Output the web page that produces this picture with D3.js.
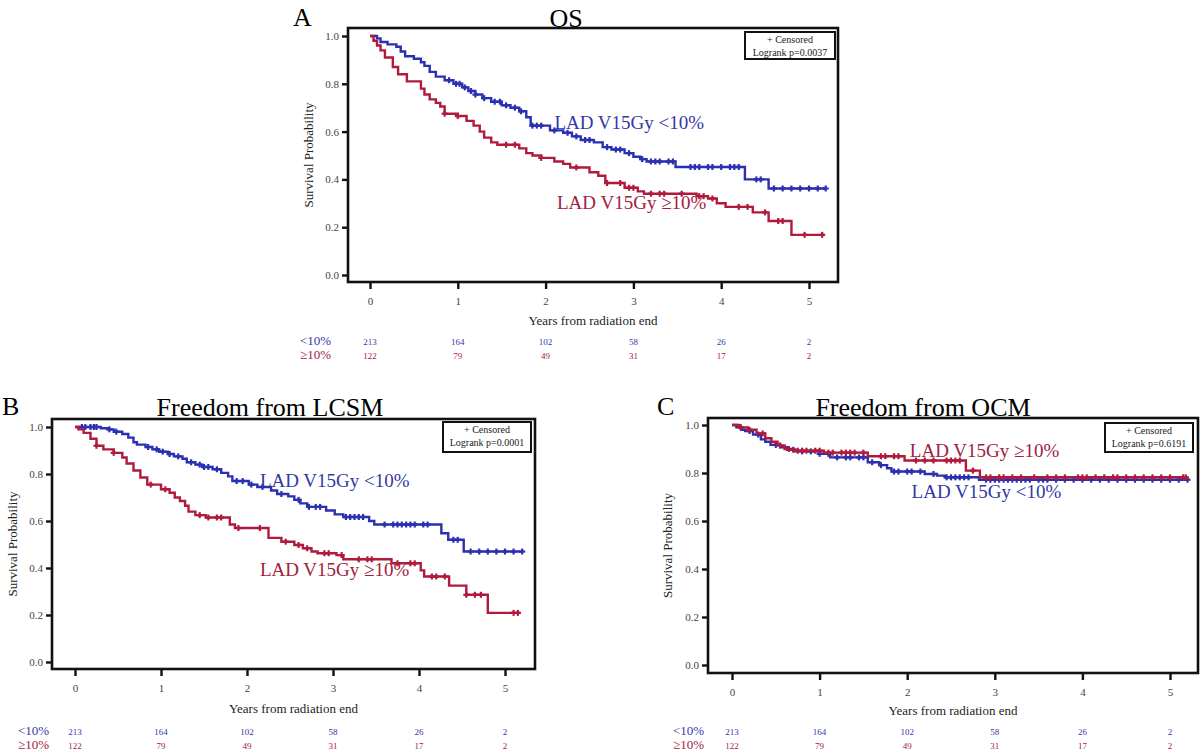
<!DOCTYPE html>
<html>
<head>
<meta charset="UTF-8">
<script src="https://d3js.org/d3.v7.min.js"></script>
<style>
  body { margin: 0; background: #fff; }
  svg text { font-family: "Liberation Serif", "Times New Roman", serif; }
</style>
</head>
<body>
<svg id="canvas" width="1200" height="753"></svg>
<script>
// ---- data ----
const xTicks = [0, 1, 2, 3, 4, 5];
const yTicks = [0, 0.2, 0.4, 0.6, 0.8, 1.0];
const groupNames = ["<10%", "\u226510%"];
const lowRisk = [213, 164, 102, 58, 26, 2];
const highRisk = [122, 79, 49, 31, 17, 2];

// OS
const osLowSteps = [[0,1],[0.08,0.99],[0.12,0.975],[0.2,0.965],[0.3,0.955],[0.35,0.935],[0.4,0.915],[0.5,0.905],[0.58,0.89],[0.62,0.875],[0.68,0.85],[0.75,0.83],[0.85,0.815],[0.95,0.8],[1.05,0.785],[1.12,0.77],[1.2,0.755],[1.28,0.74],[1.38,0.725],[1.5,0.71],[1.6,0.7],[1.7,0.685],[1.78,0.66],[1.83,0.625],[2.05,0.605],[2.2,0.595],[2.3,0.58],[2.4,0.565],[2.55,0.555],[2.65,0.535],[2.75,0.525],[2.9,0.51],[3.0,0.495],[3.08,0.485],[3.15,0.475],[3.48,0.452],[4.27,0.4],[4.54,0.362],[5.19,0.362]];
const osHighSteps = [[0,1],[0.04,0.98],[0.08,0.96],[0.12,0.94],[0.17,0.91],[0.26,0.87],[0.32,0.84],[0.42,0.81],[0.58,0.78],[0.62,0.755],[0.68,0.735],[0.75,0.72],[0.8,0.705],[0.85,0.675],[1.0,0.665],[1.1,0.645],[1.18,0.625],[1.25,0.6],[1.3,0.575],[1.38,0.555],[1.45,0.545],[1.7,0.53],[1.78,0.51],[1.85,0.5],[1.95,0.49],[2.1,0.475],[2.2,0.465],[2.28,0.45],[2.5,0.43],[2.6,0.415],[2.68,0.385],[2.9,0.365],[3.05,0.35],[3.12,0.34],[3.72,0.33],[3.85,0.32],[3.95,0.3],[4.05,0.285],[4.36,0.262],[4.54,0.226],[4.8,0.168],[5.17,0.168]];
const osLowCensor = [0.9,0.98,1.02,1.08,1.15,1.2,1.3,1.42,1.48,1.55,1.65,1.72,1.85,1.9,1.95,2.1,2.25,2.35,2.45,2.5,2.7,2.8,2.85,2.95,3.1,3.2,3.25,3.3,3.4,3.45,3.65,3.7,3.75,3.85,3.9,4.0,4.1,4.15,4.2,4.4,4.45,4.6,4.7,4.8,4.9,5.0,5.1,5.19];
const osHighCensor = [0.85,1.0,1.55,1.65,1.95,2.35,2.7,2.85,2.95,3.0,3.2,3.3,3.35,3.55,3.75,3.8,3.9,4.2,4.3,4.5,4.65,4.7,4.95,5.15];

// LCSM
const lcsmLowSteps = [[0,1],[0.3,0.995],[0.38,0.99],[0.45,0.98],[0.55,0.97],[0.62,0.955],[0.68,0.935],[0.72,0.925],[0.82,0.915],[0.9,0.905],[0.98,0.895],[1.08,0.885],[1.15,0.875],[1.25,0.865],[1.3,0.85],[1.4,0.84],[1.48,0.83],[1.6,0.82],[1.7,0.805],[1.78,0.79],[1.83,0.77],[2.02,0.755],[2.12,0.745],[2.28,0.73],[2.35,0.715],[2.48,0.705],[2.55,0.69],[2.62,0.675],[2.7,0.66],[2.92,0.645],[3.02,0.628],[3.12,0.617],[3.42,0.6],[3.48,0.585],[4.26,0.548],[4.34,0.52],[4.52,0.47],[5.2,0.47]];
const lcsmHighSteps = [[0,1],[0.04,0.99],[0.1,0.975],[0.18,0.95],[0.25,0.92],[0.33,0.905],[0.45,0.89],[0.55,0.87],[0.6,0.845],[0.68,0.815],[0.76,0.785],[0.84,0.755],[1.0,0.735],[1.1,0.72],[1.16,0.7],[1.22,0.685],[1.28,0.665],[1.32,0.64],[1.4,0.625],[1.52,0.615],[1.8,0.585],[1.86,0.57],[2.25,0.528],[2.4,0.512],[2.55,0.498],[2.65,0.484],[2.75,0.47],[2.82,0.463],[3.04,0.455],[3.12,0.437],[3.68,0.42],[4.02,0.39],[4.06,0.364],[4.35,0.325],[4.55,0.286],[4.8,0.209],[5.18,0.209]];
const lcsmLowCensor = [0.08,0.12,0.18,0.22,0.25,0.4,0.48,0.85,0.95,1.02,1.1,1.2,1.35,1.45,1.5,1.55,1.65,1.88,1.95,2.05,2.18,2.4,2.6,2.72,2.8,2.85,3.15,3.2,3.25,3.3,3.35,3.6,3.7,3.75,3.8,3.85,3.9,3.95,4.05,4.1,4.4,4.45,4.6,4.7,4.8,4.9,5.0,5.1,5.2];
const lcsmHighCensor = [0.25,0.45,0.88,1.05,1.45,1.55,1.65,1.7,1.9,2.15,2.45,2.6,2.7,2.9,2.95,3.1,3.3,3.4,3.45,3.75,3.9,3.95,4.15,4.2,4.3,4.55,4.65,4.72,5.1,5.15];

// OCM
const ocmLowSteps = [[0,1],[0.05,0.99],[0.11,0.98],[0.15,0.975],[0.24,0.96],[0.33,0.94],[0.38,0.93],[0.44,0.917],[0.55,0.907],[0.63,0.897],[0.72,0.89],[1.0,0.88],[1.12,0.865],[1.55,0.845],[1.68,0.833],[1.77,0.82],[1.82,0.806],[2.2,0.796],[2.34,0.789],[2.43,0.782],[2.82,0.772],[5.2,0.772]];
const ocmHighSteps = [[0,1],[0.08,0.99],[0.18,0.98],[0.28,0.965],[0.38,0.945],[0.45,0.93],[0.52,0.915],[0.6,0.9],[0.7,0.893],[1.05,0.885],[1.55,0.87],[1.97,0.852],[2.67,0.81],[2.83,0.782],[5.2,0.782]];
const ocmLowCensor = [0.1,0.2,0.3,0.5,0.7,0.8,0.9,1.0,1.1,1.2,1.3,1.35,1.45,1.5,1.6,1.7,1.85,1.9,2.0,2.05,2.15,2.3,2.45,2.5,2.55,2.6,2.65,2.7,2.9,2.95,3.0,3.05,3.1,3.15,3.2,3.25,3.3,3.35,3.4,3.5,3.55,3.6,3.7,3.8,3.9,4.0,4.1,4.2,4.3,4.4,4.5,4.6,4.7,4.8,4.9,5.0,5.1,5.2];
const ocmHighCensor = [0.1,0.2,0.35,0.55,0.65,0.75,0.8,0.85,0.95,1.0,1.1,1.15,1.25,1.3,1.35,1.4,1.5,1.7,1.75,1.85,1.9,2.1,2.2,2.3,2.45,2.5,2.55,2.6,2.75,2.9,2.95,3.05,3.1,3.2,3.3,3.45,3.6,3.7,3.8,3.95,4.0,4.05,4.15,4.25,4.35,4.4,4.5,4.6,4.7,4.8,4.9,5.0,5.15,5.18];

const pValues = ["0.0037", "0.0001", "0.6191"];

const blue = "#2a30b0", red = "#b01a3c";
const blueText = "#3338a6", redText = "#a2213f";

// panel layout (frame box, scale ranges, label spots)
panels = [
  { letter: "A", title: "OS", frame: [348, 28, 838, 282], xr: [370, 809], yr: [275, 36],
    letterX: 293, titleX: 566, titleY: 27, tickY: 303, xTitleY: 325, row1: 345, row2: 359, rowLabelX: 300,
    legend: [745, 32, 835, 59], p: pValues[0], yTitleX: 308,
    low: osLowSteps, high: osHighSteps, lowC: osLowCensor, highC: osHighCensor,
    lowLab: [2.1, 0.61], highLab: [2.13, 0.275] },
  { letter: "B", title: "Freedom from LCSM", frame: [52, 419, 535, 669], xr: [75, 505], yr: [662, 427],
    letterX: 2, titleX: 270, titleY: 416, tickY: 692, xTitleY: 713, row1: 735, row2: 749, rowLabelX: 18,
    legend: [443, 422, 531, 452], p: pValues[1], yTitleX: 12,
    low: lcsmLowSteps, high: lcsmHighSteps, lowC: lcsmLowCensor, highC: lcsmHighCensor,
    lowLab: [2.15, 0.745], highLab: [2.15, 0.367] },
  { letter: "C", title: "Freedom from OCM", frame: [708, 418, 1198, 673], xr: [732, 1170], yr: [665, 425],
    letterX: 657, titleX: 923, titleY: 416, tickY: 694, xTitleY: 715, row1: 735, row2: 749, rowLabelX: 673,
    legend: [1105, 423, 1193, 452], p: pValues[2], yTitleX: 667,
    low: ocmLowSteps, high: ocmHighSteps, lowC: ocmLowCensor, highC: ocmHighCensor,
    lowLab: [2.05, 0.694], highLab: [2.03, 0.865] }
];

svg = d3.select("#canvas");

function survAt(steps, t) {
  let s = steps[0][1];
  for (const d of steps) { if (d[0] <= t) s = d[1]; }
  return s;
}

panels.forEach(function (p) {
  const x = d3.scaleLinear().domain([0, 5]).range(p.xr);
  const y = d3.scaleLinear().domain([0, 1]).range(p.yr);
  const [fx0, fy0, fx1, fy1] = p.frame;
  const g = svg.append("g");

  // panel letter + title
  g.append("text").attr("x", p.letterX).attr("y", p.titleY - 1)
    .attr("font-size", 26).text(p.letter);
  g.append("text").attr("x", p.titleX).attr("y", p.titleY)
    .attr("text-anchor", "middle").attr("font-size", 26).text(p.title);

  // axes (ticks outside the frame)
  const yAxis = g.append("g").attr("transform", "translate(" + fx0 + ",0)")
    .call(d3.axisLeft(y).tickValues(yTicks).tickFormat(d3.format(".1f")).tickSize(6).tickPadding(3));
  const xAxis = g.append("g").attr("transform", "translate(0," + fy1 + ")")
    .call(d3.axisBottom(x).tickValues(xTicks).tickFormat(d3.format("d")).tickSize(7).tickPadding(8));
  [yAxis, xAxis].forEach(function (a) {
    a.select(".domain").remove();
    a.selectAll(".tick line").attr("stroke", "#111").attr("stroke-width", 2.4);
    a.selectAll(".tick text").attr("fill", "#444").attr("font-size", 11)
      .attr("font-family", "Liberation Serif, serif");
  });

  // frame
  g.append("rect").attr("x", fx0).attr("y", fy0)
    .attr("width", fx1 - fx0).attr("height", fy1 - fy0)
    .attr("fill", "none").attr("stroke", "#111").attr("stroke-width", 2.6);

  // axis titles
  g.append("text").attr("transform", "translate(" + p.yTitleX + "," + ((fy0 + fy1) / 2) + ") rotate(-90)")
    .attr("text-anchor", "middle").attr("dy", "0.35em").attr("font-size", 13).attr("fill", "#222")
    .text("Survival Probability");
  g.append("text").attr("x", (fx0 + fx1) / 2).attr("y", p.xTitleY)
    .attr("text-anchor", "middle").attr("font-size", 13).attr("fill", "#222")
    .text("Years from radiation end");

  // curves
  const line = d3.line().x(d => x(d[0])).y(d => y(d[1])).curve(d3.curveStepAfter);
  const series = [
    { steps: p.low, cens: p.lowC, color: blue },
    { steps: p.high, cens: p.highC, color: red }
  ];
  series.forEach(function (s) {
    g.append("path").datum(s.steps).attr("d", line)
      .attr("fill", "none").attr("stroke", s.color).attr("stroke-width", 2.4);
    const c = g.append("g").selectAll("g").data(s.cens).enter().append("g")
      .attr("transform", t => "translate(" + x(t) + "," + y(survAt(s.steps, t)) + ")");
    c.append("line").attr("y1", -3).attr("y2", 3)
      .attr("stroke", s.color).attr("stroke-width", 2.2);
    c.append("line").attr("x1", -3).attr("x2", 3)
      .attr("stroke", s.color).attr("stroke-width", 2.2);
  });

  // group labels inside the plot
  g.append("text").attr("x", x(p.lowLab[0])).attr("y", y(p.lowLab[1]))
    .attr("font-size", 19).attr("fill", blueText).text("LAD V15Gy <10%");
  g.append("text").attr("x", x(p.highLab[0])).attr("y", y(p.highLab[1]))
    .attr("font-size", 19).attr("fill", redText).text("LAD V15Gy \u226510%");

  // legend box
  const [lx0, ly0, lx1, ly1] = p.legend;
  g.append("rect").attr("x", lx0).attr("y", ly0).attr("width", lx1 - lx0).attr("height", ly1 - ly0)
    .attr("fill", "#fff").attr("stroke", "#111").attr("stroke-width", 2);
  g.append("text").attr("x", (lx0 + lx1) / 2).attr("y", ly0 + 11)
    .attr("text-anchor", "middle").attr("font-size", 10).attr("fill", "#222").text("+ Censored");
  g.append("text").attr("x", (lx0 + lx1) / 2).attr("y", ly0 + 24)
    .attr("text-anchor", "middle").attr("font-size", 10).attr("fill", "#222").text("Logrank p=" + p.p);

  // numbers at risk
  const rows = [
    { name: groupNames[0], vals: lowRisk, color: blueText, yy: p.row1 },
    { name: groupNames[1], vals: highRisk, color: redText, yy: p.row2 }
  ];
  rows.forEach(function (r) {
    g.append("text").attr("x", p.rowLabelX).attr("y", r.yy)
      .attr("font-size", 13).attr("fill", r.color).text(r.name);
    g.append("g").selectAll("text").data(r.vals).enter().append("text")
      .attr("x", (d, i) => x(xTicks[i])).attr("y", r.yy)
      .attr("text-anchor", "middle").attr("font-size", 9).attr("fill", r.color)
      .text(d => d);
  });
});
</script>
</body>
</html>
